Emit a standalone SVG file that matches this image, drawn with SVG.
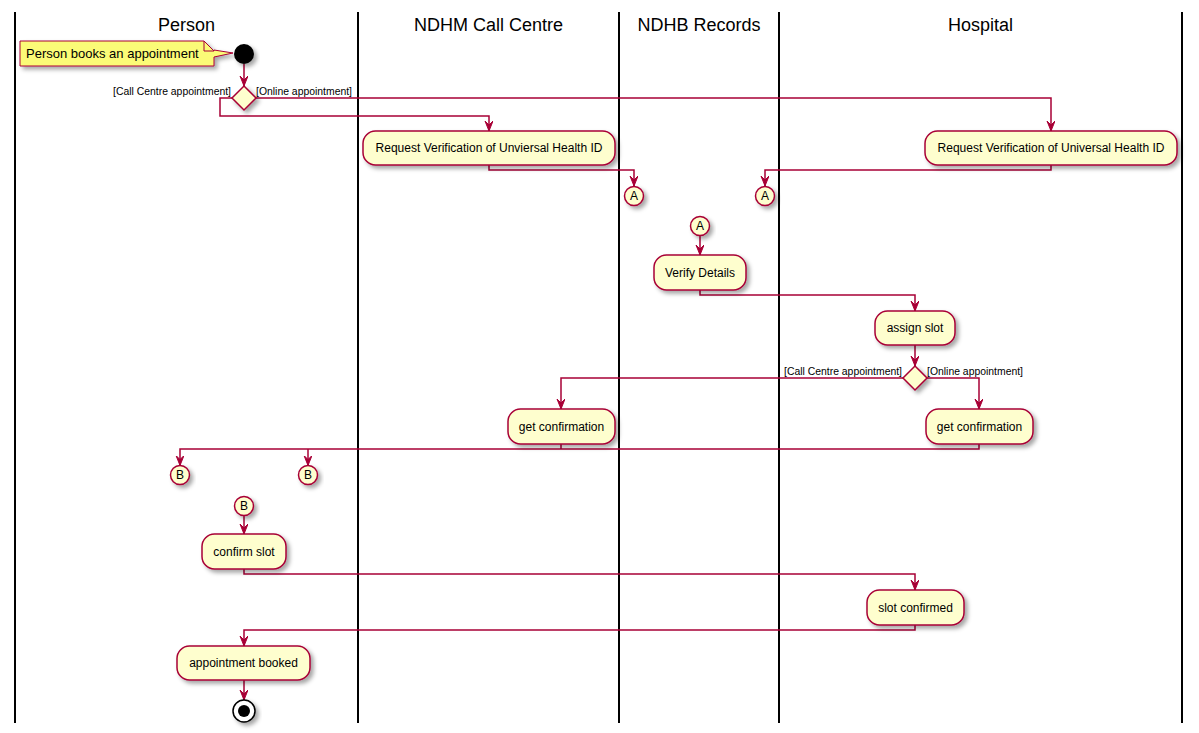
<svg xmlns="http://www.w3.org/2000/svg" width="1199" height="733" viewBox="0 0 1199 733">
<style>
text{font-family:"Liberation Sans",Arial,sans-serif;fill:#000}
.hdr{font-size:18px;text-anchor:middle}
.act{font-size:12px;text-anchor:middle}
.lbl{font-size:11px}
.box{fill:#FEFECE;stroke:#A80036;stroke-width:1.5;filter:url(#sh)}
.con{fill:#FEFECE;stroke:#A80036;stroke-width:1.5;filter:url(#sh)}
.lane{stroke:#000;stroke-width:2}
.ln{fill:none;stroke:#A80036;stroke-width:1.5}
.arr{fill:none;stroke:#A80036;stroke-width:1.5;marker-end:url(#ah)}
</style>
<defs>
<filter id="sh" x="-20%" y="-20%" width="150%" height="160%">
<feDropShadow dx="3" dy="3" stdDeviation="2" flood-color="#000" flood-opacity="0.35"/>
</filter>
<marker id="ah" markerUnits="userSpaceOnUse" markerWidth="12" markerHeight="10" refX="10" refY="4" orient="auto" viewBox="0 0 12 10">
<path d="M0,0 L10,4 L0,8 L4,4 Z" fill="#A80036" stroke="#A80036" stroke-width="1"/>
</marker>
</defs>
<rect width="1199" height="733" fill="#fff"/>
<g id="lanes">
<line class="lane" x1="15" y1="12" x2="15" y2="723"/>
<line class="lane" x1="358" y1="12" x2="358" y2="723"/>
<line class="lane" x1="619" y1="12" x2="619" y2="723"/>
<line class="lane" x1="779" y1="12" x2="779" y2="723"/>
<line class="lane" x1="1182" y1="12" x2="1182" y2="723"/>
<text class="hdr" x="186.5" y="31">Person</text>
<text class="hdr" x="488.5" y="31">NDHM Call Centre</text>
<text class="hdr" x="699" y="31">NDHB Records</text>
<text class="hdr" x="980.5" y="31">Hospital</text>
</g>
<g id="connectors">
<polyline class="arr" points="244,64 244,86"/>
<polyline class="arr" points="256,98 1051,98 1051,131"/>
<polyline class="arr" points="232,98 220,98 220,116 489,116 489,131"/>
<polyline class="arr" points="489,165 489,170 634,170 634,186"/>
<polyline class="arr" points="1051,165 1051,170 765,170 765,186"/>
<polyline class="arr" points="700,235.5 700,255"/>
<polyline class="arr" points="700,290 700,295 915,295 915,311"/>
<polyline class="arr" points="915,345 915,366"/>
<polyline class="arr" points="903,378 561,378 561,409"/>
<polyline class="arr" points="927,378 979,378 979,409"/>
<polyline class="arr" points="979,444 979,449 180,449 180,465.5"/>
<polyline class="ln" points="561,444 561,449"/>
<polyline class="arr" points="308,449 308,465.5"/>
<polyline class="arr" points="244,515.5 244,534"/>
<polyline class="arr" points="244,569 244,574 915,574 915,590"/>
<polyline class="arr" points="915,625 915,630 244,630 244,646"/>
<polyline class="arr" points="244,680 244,700"/>
<text class="lbl" x="113" y="95" textLength="118" lengthAdjust="spacingAndGlyphs">[Call Centre appointment]</text>
<text class="lbl" x="256" y="95" textLength="96" lengthAdjust="spacingAndGlyphs">[Online appointment]</text>
<text class="lbl" x="784" y="375" textLength="118" lengthAdjust="spacingAndGlyphs">[Call Centre appointment]</text>
<text class="lbl" x="927" y="375" textLength="96" lengthAdjust="spacingAndGlyphs">[Online appointment]</text>
</g>
<g id="start">
<circle cx="244" cy="54" r="10" fill="#000" filter="url(#sh)"/>
</g>
<g id="note">
<path d="M20,41 L204,41 L214,51 L214,50 L233,53 L214,57 L214,66 L20,66 Z" fill="#FBFB77" stroke="#A80036" stroke-width="1" filter="url(#sh)"/>
<path d="M204,41 L204,51 L214,51" fill="none" stroke="#A80036" stroke-width="1"/>
<text x="26" y="58" font-size="13">Person books an appointment</text>
</g>
<g id="decision1">
<polygon class="box" points="244,86 256,98 244,110 232,98"/>
</g>
<g id="req-callcentre">
<rect class="box" x="363" y="131" width="252" height="34" rx="12.5"/>
<text class="act" x="489" y="152">Request Verification of Unviersal Health ID</text>
</g>
<g id="req-hospital">
<rect class="box" x="925" y="131" width="252" height="34" rx="12.5"/>
<text class="act" x="1051" y="152">Request Verification of Universal Health ID</text>
</g>
<g id="connA1">
<circle class="con" cx="634" cy="196" r="9.5"/>
<text class="act" x="634" y="200" font-size="11">A</text>
</g>
<g id="connA2">
<circle class="con" cx="765" cy="196" r="9.5"/>
<text class="act" x="765" y="200" font-size="11">A</text>
</g>
<g id="connA3">
<circle class="con" cx="700" cy="226" r="9.5"/>
<text class="act" x="700" y="230" font-size="11">A</text>
</g>
<g id="verify">
<rect class="box" x="654" y="255" width="92" height="35" rx="12.5"/>
<text class="act" x="700" y="277">Verify Details</text>
</g>
<g id="assign">
<rect class="box" x="875" y="311" width="80" height="34" rx="12.5"/>
<text class="act" x="915" y="332">assign slot</text>
</g>
<g id="decision2">
<polygon class="box" points="915,366 927,378 915,390 903,378"/>
</g>
<g id="confirm-callcentre">
<rect class="box" x="508" y="409" width="107" height="35" rx="12.5"/>
<text class="act" x="561.5" y="431">get confirmation</text>
</g>
<g id="confirm-hospital">
<rect class="box" x="926" y="409" width="107" height="35" rx="12.5"/>
<text class="act" x="979.5" y="431">get confirmation</text>
</g>
<g id="connB1">
<circle class="con" cx="180" cy="475" r="9.5"/>
<text class="act" x="180" y="479" font-size="11">B</text>
</g>
<g id="connB2">
<circle class="con" cx="308" cy="475" r="9.5"/>
<text class="act" x="308" y="479" font-size="11">B</text>
</g>
<g id="connB3">
<circle class="con" cx="244" cy="506" r="9.5"/>
<text class="act" x="244" y="510" font-size="11">B</text>
</g>
<g id="confirm-slot">
<rect class="box" x="202" y="534" width="84" height="35" rx="12.5"/>
<text class="act" x="244" y="556">confirm slot</text>
</g>
<g id="slot-confirmed">
<rect class="box" x="867" y="590" width="97" height="35" rx="12.5"/>
<text class="act" x="915.5" y="612">slot confirmed</text>
</g>
<g id="booked">
<rect class="box" x="177" y="646" width="133" height="34" rx="12.5"/>
<text class="act" x="243.5" y="667">appointment booked</text>
</g>
<g id="end">
<circle cx="244" cy="711" r="11" fill="#fff" stroke="#000" stroke-width="1.5" filter="url(#sh)"/>
<circle cx="244" cy="711" r="6" fill="#000"/>
</g>
</svg>
